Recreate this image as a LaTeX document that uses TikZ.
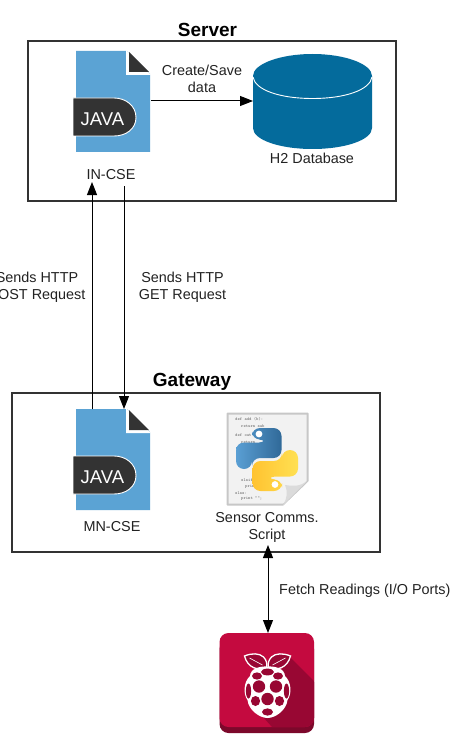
\documentclass[tikz,border=0pt]{standalone}
\usepackage{fontspec}
\setmainfont{Liberation Sans}
\usetikzlibrary{arrows.meta,calc}
\definecolor{javablue}{HTML}{5BA3D4}
\definecolor{javadark}{HTML}{333333}
\definecolor{dbblue}{HTML}{046B9C}
\definecolor{rpired}{HTML}{C40A3F}
\definecolor{rpishade}{HTML}{980733}
\definecolor{rpibase}{HTML}{7C082B}
\definecolor{txt}{HTML}{222222}
\definecolor{pyblueA}{HTML}{5A9FD4}
\definecolor{pyblueB}{HTML}{306998}
\definecolor{pyyelA}{HTML}{FFE052}
\definecolor{pyyelB}{HTML}{FFC331}
\tikzset{
  x=1pt,y=-1pt,
  frame/.style={draw=black!80,line width=1.1pt,fill=white},
  title/.style={font=\bfseries\fontsize{19}{21}\selectfont,text=black,inner sep=0pt},
  lbl/.style={font=\fontsize{14.4}{17}\selectfont,text=txt,align=center,inner sep=0pt},
  conn/.style={draw=black,line width=1pt,-{Triangle[length=13pt,width=10pt]}},
  both/.style={draw=black,line width=1pt,{Triangle[length=13pt,width=10pt]}-{Triangle[length=13pt,width=10pt]}},
  codeline/.style={font=\ttfamily\fontsize{4.4}{5}\selectfont,text=black!60,inner sep=0pt,anchor=west},
  javaicon/.pic={
    \fill[javablue] (0,0) -- (51,0) -- (74,23) -- (74,101) -- (0,101) -- cycle;
    \fill[white] (50,-1) -- (51,0) -- (75,24) -- (50,24) -- cycle;
    \fill[javadark] (53,1) -- (73,21) -- (53,21) -- cycle;
    \fill[javadark,draw=white,line width=0.9pt] (-3,47) -- (38,47)
      .. controls (50,47) and (60,55) .. (60,66.5)
      .. controls (60,78) and (50,85) .. (38,85) -- (-3,85) -- cycle;
    \node[font=\fontsize{18.5}{20}\selectfont,text=white,inner sep=0pt] (-javatext) at (26.5,68) {JAVA};
  },
}
\begin{document}
\begin{tikzpicture}
\useasboundingbox (0,0) rectangle (459,746);
\fill[white] (0,0) rectangle (459,746);

% frames
\node[frame,inner sep=0pt,minimum width=368pt,minimum height=160pt] (server) at (212,121) {};
\node[frame,inner sep=0pt,minimum width=368pt,minimum height=159pt] (gateway) at (196,472.5) {};
\node[title] (servertitle) at (207.5,30) {Server};
\node[title] (gatewaytitle) at (192,382) {Gateway};

% java icons
\pic (inj) at (76,51) {javaicon};
\pic (mnj) at (76,409) {javaicon};
\node[inner sep=0pt,minimum width=74pt,minimum height=101pt] (injava) at (113,101.5) {};
\node[inner sep=0pt,minimum width=74pt,minimum height=101pt] (mnjava) at (113,459.5) {};
\node[lbl] (incse) at (111,174.5) {IN-CSE};
\node[lbl] (mncse) at (112,526.5) {MN-CSE};

% database
\fill[dbblue] (253,76) .. controls (253,64) and (280,54) .. (312.5,54)
  .. controls (345,54) and (372,64) .. (372,76) -- (372,128)
  .. controls (372,140) and (345,149) .. (312.5,149)
  .. controls (280,149) and (253,140) .. (253,128) -- cycle;
\draw[white,line width=0.9pt] (253,77) .. controls (255,90) and (280,98.5) .. (312.5,98.5)
  .. controls (345,98.5) and (370,90) .. (372,77);
\node[inner sep=0pt,minimum width=119pt,minimum height=95pt] (db) at (312.5,101.5) {};
\node[lbl] (dblabel) at (312,158.5) {H2 Database};

% python script icon
\fill[black!22,rounded corners=1pt] (226.5,412.5) rectangle (308.5,505.5);
\fill[black!5] (228.5,414.5) -- (306.5,414.5) -- (306.5,481) -- (283,503.5) -- (228.5,503.5) -- cycle;
\node[codeline] (c1) at (235,419) {def add (b):};
\node[codeline] (c2) at (241,426) {return sub};
\node[codeline] (c3) at (235,435) {def out};
\node[codeline] (c4) at (241,442) {return};
\node[codeline] (c5) at (241,480) {elsif:};
\node[codeline] (c6) at (245,487) {print};
\node[codeline] (c7) at (235,493) {else:};
\node[codeline] (c8) at (241,499) {print "";};
\fill[white] (309,481) -- (283,506) -- (309,506) -- cycle;
\fill[black!14] (307,481) .. controls (300,487) and (292,486) .. (285,485)
  .. controls (288,492) and (287,499) .. (283,505) -- cycle;
\begin{scope}[shift={(267,459.5)}]
  \path[left color=pyblueA,right color=pyblueB,rounded corners=8pt]
    (-15,-31.5) -- (14.5,-31.5) -- (14.5,-1.5) -- (-15,-1.5) -- (-15,9.5) -- (-31,9.5) -- (-31,-17)
    -- (0,-17) -- (0,-20) -- (-15,-20) -- cycle;
  \fill[white] (-8,-25.5) circle[radius=3.4];
  \path[left color=pyyelB,right color=pyyelA,rounded corners=8pt]
    (15,31.5) -- (-14.5,31.5) -- (-14.5,1.5) -- (15,1.5) -- (15,-9.5) -- (31,-9.5) -- (31,17)
    -- (0,17) -- (0,20) -- (15,20) -- cycle;
  \fill[white] (8,25) circle[radius=3.4];
\end{scope}
\node[inner sep=0pt,minimum width=81pt,minimum height=92pt] (script) at (267,459) {};
\node[lbl] (scriptlabel) at (267,527) {Sensor Comms.\\Script};

% raspberry pi
\fill[rpibase,rounded corners=9pt] (219.5,640) rectangle (314,733);
\fill[rpired,rounded corners=9pt] (219.5,633) rectangle (314,727);
\begin{scope}
  \clip[rounded corners=9pt] (219.5,633) rectangle (314,727);
  \fill[rpishade] (290,657) -- (320,687) -- (320,727) -- (272,727) -- (255,708) -- cycle;
\end{scope}
\node[inner sep=0pt,minimum width=94.5pt,minimum height=100pt] (rpi) at (266.75,683) {};
\begin{scope}[shift={(267.5,690)}]
  % leaves
  \fill[rpishade,draw=white,line width=1.3pt] (-1,-22) .. controls (-9,-19) and (-20,-22) .. (-23,-34)
    .. controls (-16,-37) and (-8,-37) .. (-4,-33) .. controls (-1,-30) and (0,-26) .. (-1,-22) -- cycle;
  \fill[rpishade,draw=white,line width=1.3pt] (1,-22) .. controls (9,-19) and (20,-22) .. (23,-34)
    .. controls (16,-37) and (8,-37) .. (4,-33) .. controls (1,-30) and (0,-26) .. (1,-22) -- cycle;
  \draw[white,line width=0.6pt] (-18,-32) -- (-5,-25) (18,-32) -- (5,-25);
  % body
  \fill[white] (0,-23.5) .. controls (9,-24) and (17,-21) .. (17.5,-14)
    .. controls (24,-8) and (24.5,4) .. (20,10)
    .. controls (19,20) and (8,28) .. (0,28)
    .. controls (-8,28) and (-19,20) .. (-20,10)
    .. controls (-24.5,4) and (-24,-8) .. (-17.5,-14)
    .. controls (-17,-21) and (-9,-24) .. (0,-23.5) -- cycle;
  \fill[rpishade]
    (0,-18) ellipse[x radius=6.5,y radius=3.4]
    (-10.5,-14) ellipse[x radius=5,y radius=3.6]
    (10.5,-14) ellipse[x radius=5,y radius=3.6]
    (-19,1) ellipse[x radius=2.6,y radius=7.5]
    (19,1) ellipse[x radius=2.6,y radius=7.5]
    (-8.5,-3.5) ellipse[x radius=6.2,y radius=6.2]
    (8.5,-3.5) ellipse[x radius=6.2,y radius=6.2]
    (-12,11) ellipse[x radius=4.6,y radius=5]
    (12,11) ellipse[x radius=4.6,y radius=5]
    (0,9) circle[radius=6.2]
    (0,22) ellipse[x radius=5.5,y radius=3.6];
\end{scope}

% connectors
\coordinate (upstart) at (92,409);
\coordinate (upend) at (92,182);
\coordinate (downstart) at (124,186);
\coordinate (downend) at (124,409);
\coordinate (pistart) at (268,545);
\coordinate (piend) at (268,633);
\coordinate (dbarrowstart) at (151,101);
\coordinate (dbarrowend) at (253,101);
\draw[conn] (dbarrowstart) -- (dbarrowend);
\draw[conn] (upstart) -- (upend);
\draw[conn] (downstart) -- (downend);
\draw[both] (pistart) -- (piend);

% connector labels
\node[lbl] (createlabel) at (202,78.5) {Create/Save\\data};
\node[lbl] (postlabel) at (37,287.5) {Sends HTTP\\POST Request};
\node[lbl] (getlabel) at (182.5,287.5) {Sends HTTP\\GET Request};
\node[lbl,anchor=west] (fetchlabel) at (279,590.5) {Fetch Readings (I/O Ports)};
\end{tikzpicture}
\end{document}
